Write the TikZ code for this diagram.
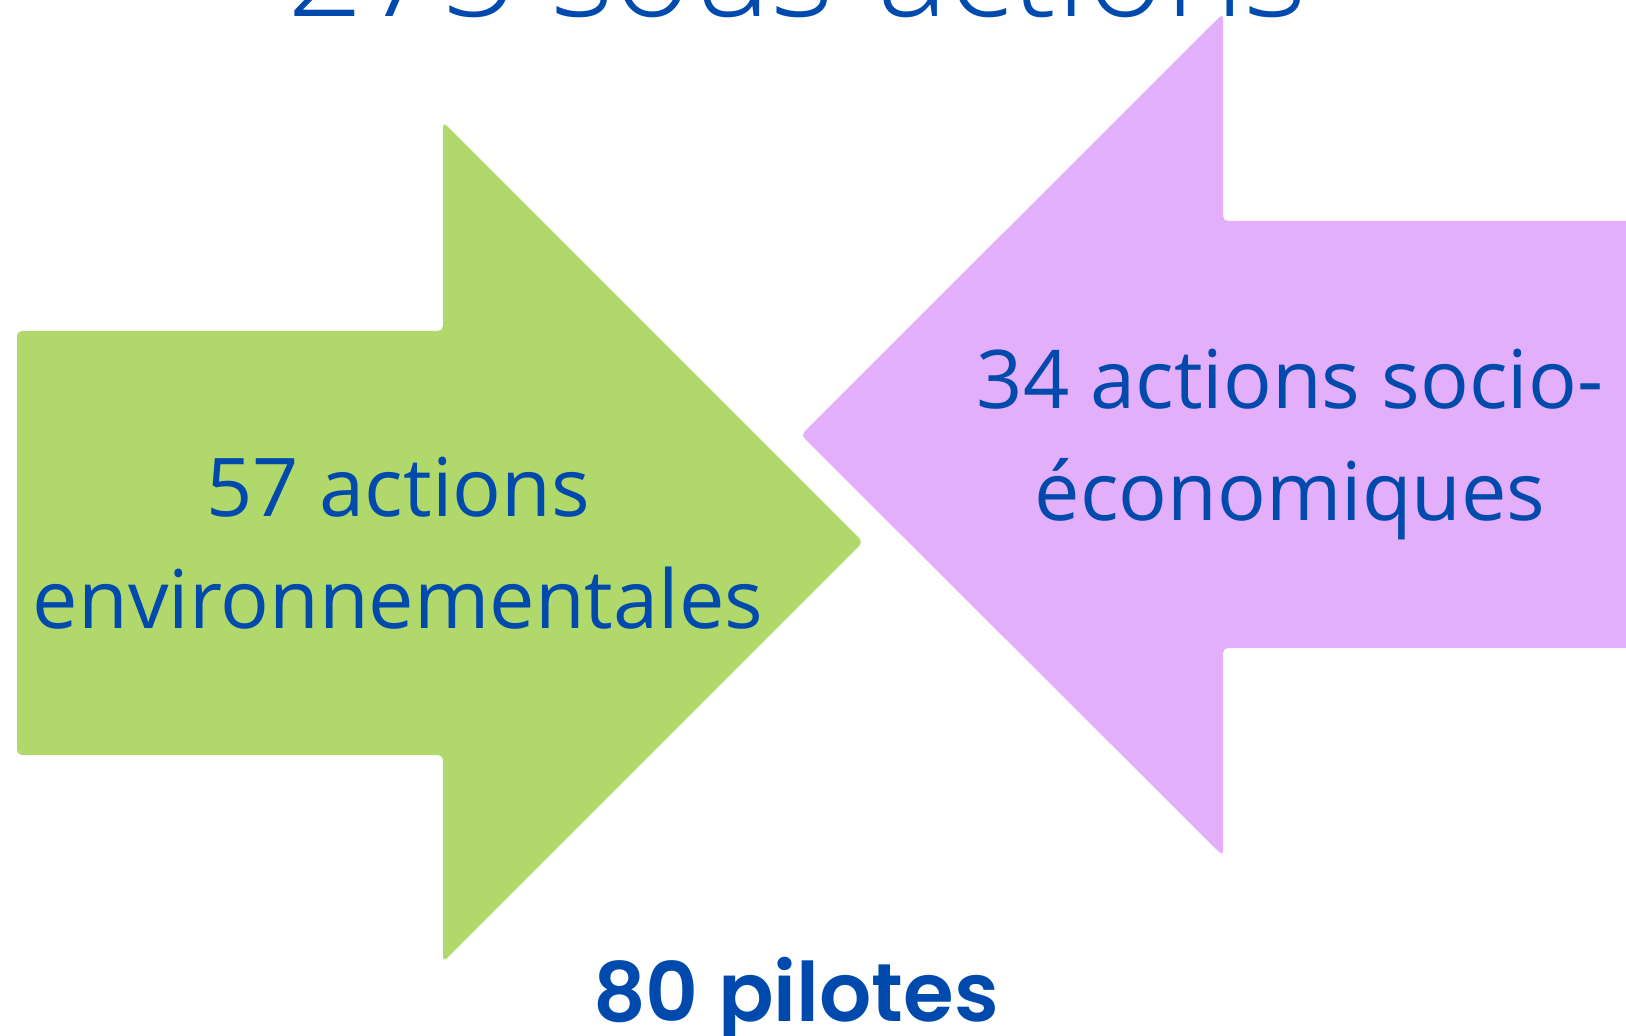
\documentclass[tikz,border=0pt]{standalone}
\usepackage{fontspec}
\setmainfont{Open Sans}
\newfontfamily\popfont{Poppins}[BoldFont={* SemiBold}]
\newfontfamily\lightfont{Open Sans Light}
\definecolor{txtblue}{HTML}{004AAD}
\definecolor{envgreen}{HTML}{B1D86B}
\definecolor{socpurple}{HTML}{E4AFFA}
\tikzset{
  arrowshape/.style={rounded corners=2.5pt},
  lbl/.style={text=txtblue, anchor=base, inner sep=0pt, font=\fontsize{40.5}{48}\selectfont},
  titlelbl/.style={text=txtblue, anchor=base, inner sep=0pt, font=\lightfont\fontsize{67}{72}\selectfont},
  pilotlbl/.style={text=txtblue, anchor=base, inner sep=0pt, font=\popfont\bfseries\fontsize{41}{50}\selectfont}
}
\begin{document}
\begin{tikzpicture}[x=0.5pt,y=-0.5pt]
\useasboundingbox (0,0) rectangle (1626,1036);
\clip (0,0) rectangle (1626,1036);
% green arrow (pointing right)
\fill[envgreen, arrowshape] (17,331) -- (443,331) -- (443,122) -- (863,542) -- (443,962) -- (443,755) -- (17,755) -- cycle;
% purple arrow (pointing left)
\fill[socpurple, arrowshape] (1660,221) -- (1223,221) -- (1223,13.5) -- (801,435) -- (1223,856) -- (1223,648) -- (1660,648) -- cycle;
% texts
\node[titlelbl] (title) at (797,17) {275 sous-actions};
\node[lbl] (env1) at (398,517) {57 actions};
\node[lbl] (env2) at (398,629) {environnementales};
\node[lbl] (soc1) at (1290,409) {34 actions socio-};
\node[lbl] (soc2) at (1290,521) {économiques};
\node[pilotlbl] (pilotes) at (796,1021) {80 pilotes};
\end{tikzpicture}
\end{document}
